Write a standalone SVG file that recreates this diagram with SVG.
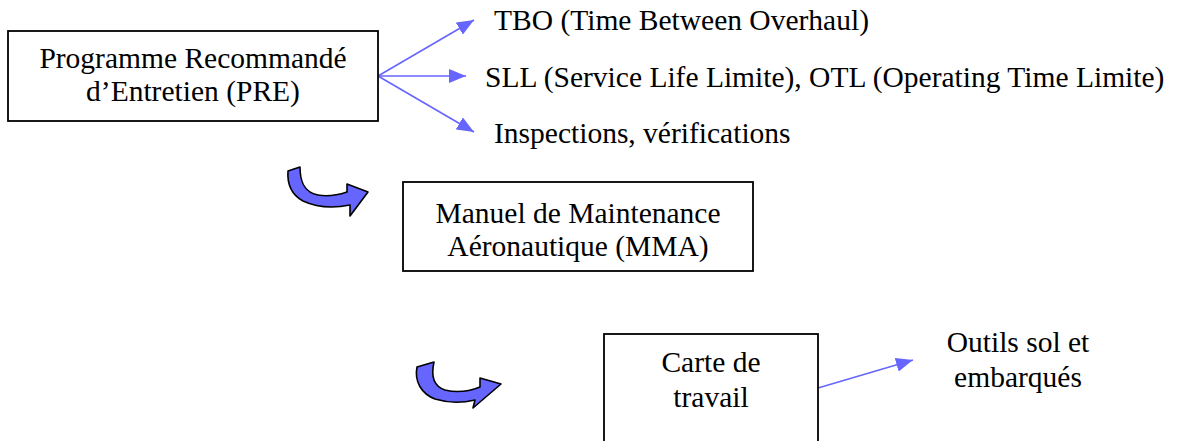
<svg xmlns="http://www.w3.org/2000/svg" width="1177" height="441" viewBox="0 0 1177 441">
<style>
.box{fill:#fff;stroke:#000;stroke-width:1.8}
.t{font-family:"Liberation Serif","Times New Roman",serif;font-size:29.5px;fill:#000}
.c{text-anchor:middle}
.conn{stroke:#6666FF;stroke-width:1.6;fill:none;marker-end:url(#ah)}
.curve{fill:#6666FF;stroke:#000;stroke-width:1.6;stroke-linejoin:round}
</style>
<defs>
<marker id="ah" markerUnits="userSpaceOnUse" markerWidth="18" markerHeight="14" refX="17" refY="7" orient="auto">
<path d="M0,0 L17,7 L0,14 Z" fill="#6666FF"/>
</marker>
</defs>
<rect width="1177" height="441" fill="#fff"/>
<g id="connectors">
<line class="conn" x1="378" y1="76" x2="474" y2="20"/>
<line class="conn" x1="378" y1="76" x2="466" y2="76"/>
<line class="conn" x1="378" y1="76" x2="474" y2="132"/>
<line class="conn" x1="818" y1="388" x2="913" y2="360"/>
</g>
<g id="curved-arrow-1">
<path class="curve" d="M288,171 L300,167 C300,180 303,192 318,195 C328,197 338,195 347,192 L347,184 L368,192 L350,216 L350,205 C335,208 318,208 303,201 C292,195 287,185 288,171 Z"/>
</g>
<g id="curved-arrow-2">
<path class="curve" d="M417,367 L434,362 C431,375 433,386 445,390 C457,393 470,391 480,387 L480,378 L501,384 L473,408 L475,400 C462,403 448,403 435,399 C422,394 414,382 417,367 Z"/>
</g>
<g id="node-pre">
<rect class="box" x="8" y="31" width="370" height="90"/>
<text class="t c" x="193" y="68">Programme Recommandé</text>
<text class="t c" x="193" y="101">d’Entretien (PRE)</text>
</g>
<g id="node-tbo">
<text class="t" x="494" y="30">TBO (Time Between Overhaul)</text>
</g>
<g id="node-sll">
<text class="t" x="485" y="87">SLL (Service Life Limite), OTL (Operating Time Limite)</text>
</g>
<g id="node-insp">
<text class="t" x="494" y="143">Inspections, vérifications</text>
</g>
<g id="node-mma">
<rect class="box" x="403" y="182" width="350" height="89"/>
<text class="t c" x="578" y="223">Manuel de Maintenance</text>
<text class="t c" x="578" y="256">Aéronautique (MMA)</text>
</g>
<g id="node-carte">
<rect class="box" x="604" y="334" width="214" height="130"/>
<text class="t c" x="711" y="372">Carte de</text>
<text class="t c" x="711" y="407">travail</text>
</g>
<g id="node-outils">
<text class="t c" x="1018" y="352">Outils sol et</text>
<text class="t c" x="1018" y="387">embarqués</text>
</g>
</svg>
